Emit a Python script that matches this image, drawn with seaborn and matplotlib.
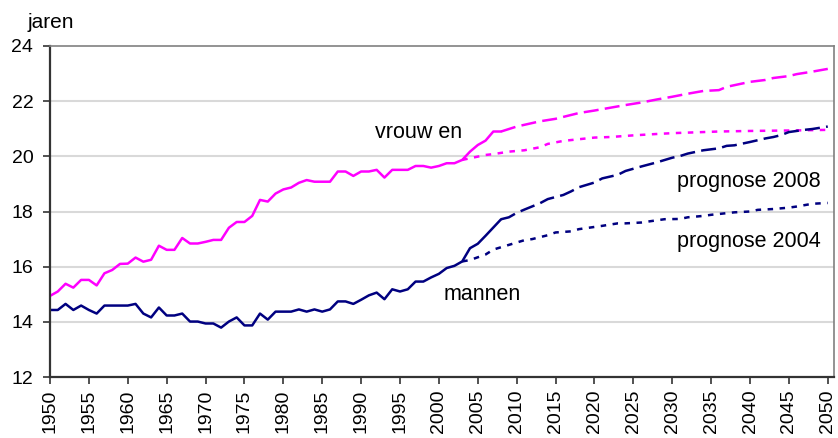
import matplotlib
matplotlib.use("Agg")
import matplotlib.pyplot as plt
import seaborn as sns

# ---- data ----
years_actual = list(range(1950, 2009))
vrouwen = [14.94, 15.10, 15.38, 15.24, 15.52, 15.52, 15.32, 15.76, 15.88, 16.10,
           16.11, 16.33, 16.18, 16.25, 16.76, 16.61, 16.61, 17.04, 16.84, 16.84,
           16.90, 16.97, 16.97, 17.41, 17.62, 17.62, 17.84, 18.42, 18.36, 18.65,
           18.80, 18.87, 19.04, 19.14, 19.08, 19.08, 19.08, 19.45, 19.45, 19.29,
           19.45, 19.45, 19.51, 19.23, 19.51, 19.51, 19.51, 19.65, 19.65, 19.59,
           19.65, 19.75, 19.75, 19.87, 20.17, 20.41, 20.57, 20.90, 20.90]
mannen = [14.43, 14.43, 14.65, 14.43, 14.59, 14.43, 14.30, 14.59, 14.59, 14.59,
          14.59, 14.65, 14.30, 14.16, 14.52, 14.23, 14.23, 14.30, 14.01, 14.01,
          13.94, 13.94, 13.79, 14.01, 14.16, 13.87, 13.87, 14.30, 14.08, 14.37,
          14.37, 14.37, 14.45, 14.37, 14.45, 14.37, 14.45, 14.74, 14.74, 14.65,
          14.80, 14.96, 15.06, 14.82, 15.18, 15.10, 15.18, 15.46, 15.46, 15.61,
          15.74, 15.95, 16.03, 16.19, 16.67, 16.83, 17.12, 17.42, 17.72]

years_v2008 = [2008, 2010, 2013, 2015, 2017, 2018, 2020, 2023, 2024, 2026, 2028, 2030,
               2032, 2034, 2036, 2037, 2038, 2040, 2042, 2043, 2045, 2046, 2048, 2050]
vrouwen_2008 = [20.90, 21.08, 21.27, 21.36, 21.50, 21.57, 21.66, 21.81, 21.86, 21.95, 22.06, 22.16,
                22.27, 22.37, 22.40, 22.52, 22.58, 22.70, 22.77, 22.84, 22.91, 22.98, 23.07, 23.17]

years_v2004 = [2003, 2004, 2006, 2007, 2009, 2011, 2013, 2014, 2016, 2018, 2020, 2022,
               2025, 2028, 2030, 2033, 2036, 2040, 2043, 2046, 2050]
vrouwen_2004 = [19.87, 19.93, 20.05, 20.08, 20.17, 20.22, 20.33, 20.45, 20.56, 20.62, 20.68, 20.70,
                20.76, 20.81, 20.84, 20.87, 20.90, 20.92, 20.93, 20.94, 20.96]

years_m2008 = [2008, 2009, 2010, 2011, 2013, 2014, 2016, 2017, 2018, 2020, 2021, 2023, 2024,
               2026, 2028, 2030, 2031, 2032, 2034, 2036, 2037, 2038, 2040, 2042, 2043, 2044,
               2045, 2047, 2048, 2050]
mannen_2008 = [17.72, 17.79, 17.95, 18.07, 18.30, 18.45, 18.60, 18.73, 18.88, 19.05, 19.20, 19.33, 19.47,
               19.63, 19.78, 19.95, 20.01, 20.10, 20.22, 20.29, 20.38, 20.40, 20.52, 20.65, 20.70, 20.77,
               20.88, 20.96, 20.99, 21.08]

years_m2004 = [2003, 2004, 2006, 2007, 2009, 2011, 2012, 2014, 2015, 2017, 2018, 2020, 2021,
               2023, 2024, 2026, 2028, 2029, 2031, 2032, 2034, 2035, 2037, 2038, 2040, 2041,
               2043, 2045, 2046, 2048, 2050]
mannen_2004 = [16.19, 16.24, 16.44, 16.62, 16.79, 16.96, 17.00, 17.14, 17.24, 17.28, 17.36, 17.44, 17.48,
               17.57, 17.57, 17.60, 17.68, 17.72, 17.73, 17.79, 17.84, 17.88, 17.94, 17.97, 18.00, 18.06,
               18.09, 18.14, 18.18, 18.28, 18.31]

xticks = list(range(1950, 2051, 5))
yticks = [12, 14, 16, 18, 20, 22, 24]

PINK = "#FF00FF"
NAVY = "#000080"

sns.set_theme(style="white")
plt.rcParams['font.family'] = ['Liberation Sans', 'DejaVu Sans']
plt.rcParams['text.color'] = 'black'

fig = plt.figure(figsize=(8.38, 4.38), dpi=100)
ax = fig.add_axes([50/838, 1-377/438, (834-50)/838, (377-46)/438])

lw = 1.8
sns.lineplot(x=years_actual, y=vrouwen, ax=ax, color=PINK, lw=lw)
sns.lineplot(x=years_actual, y=mannen, ax=ax, color=NAVY, lw=lw)
sns.lineplot(x=years_v2008, y=vrouwen_2008, ax=ax, color=PINK, lw=lw)
ax.lines[-1].set_dashes((6, 2.5))
sns.lineplot(x=years_v2004, y=vrouwen_2004, ax=ax, color=PINK, lw=lw)
ax.lines[-1].set_dashes((2.2, 2.6))
sns.lineplot(x=years_m2008, y=mannen_2008, ax=ax, color=NAVY, lw=lw)
ax.lines[-1].set_dashes((6, 2.5))
sns.lineplot(x=years_m2004, y=mannen_2004, ax=ax, color=NAVY, lw=lw)
ax.lines[-1].set_dashes((2.2, 2.6))

ax.set_xlim(1950, 2050.8)
ax.set_ylim(12, 24)
ax.set_xticks(xticks)
ax.set_xticklabels([str(t) for t in xticks], rotation=90, fontsize=14)
ax.set_yticks(yticks)
ax.set_yticklabels([str(t) for t in yticks], fontsize=14)
ax.tick_params(axis='both', direction='out', length=5, width=1.2, color='#333333',
               bottom=True, left=True, labelcolor='black')
ax.tick_params(axis='y', pad=7)
ax.tick_params(axis='x', pad=4)

for v in [14, 16, 18, 20, 22]:
    ax.axhline(v, color='#D9D9D9', lw=1.5, zorder=0)

for side in ['left', 'bottom']:
    ax.spines[side].set_color('#333333')
    ax.spines[side].set_linewidth(1.6)
for side in ['top', 'right']:
    ax.spines[side].set_color('#808080')
    ax.spines[side].set_linewidth(1.2)

ax.set_xlabel("")
ax.set_ylabel("")

fig.text(28/838, 1-22/438, "jaren", fontsize=15, va='center', ha='left', color='black')

ax.text(1991.8, 20.85, "vrouw en", fontsize=15.5, va='center', ha='left', color='black')
ax.text(2000.6, 15.0, "mannen", fontsize=15.5, va='center', ha='left', color='black')
ax.text(2030.6, 19.1, "prognose 2008", fontsize=15.5, va='center', ha='left', color='black')
ax.text(2030.6, 16.93, "prognose 2004", fontsize=15.5, va='center', ha='left', color='black')

fig.savefig("out.png", dpi=100)
